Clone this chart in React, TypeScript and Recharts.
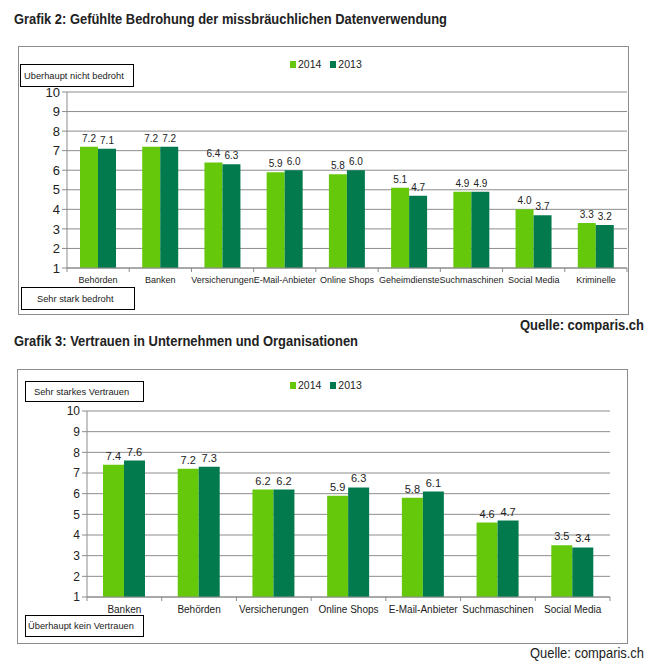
import React from 'react';
import { BarChart, Bar, XAxis, YAxis, CartesianGrid, LabelList } from 'recharts';

const threatCategories = ['Behörden', 'Banken', 'Versicherungen', 'E-Mail-Anbieter', 'Online Shops', 'Geheimdienste', 'Suchmaschinen', 'Social Media', 'Kriminelle'];
const threat2014 = [7.2, 7.2, 6.4, 5.9, 5.8, 5.1, 4.9, 4.0, 3.3];
const threat2013 = [7.1, 7.2, 6.3, 6.0, 6.0, 4.7, 4.9, 3.7, 3.2];

const trustCategories = ['Banken', 'Behörden', 'Versicherungen', 'Online Shops', 'E-Mail-Anbieter', 'Suchmaschinen', 'Social Media'];
const trust2014 = [7.4, 7.2, 6.2, 5.9, 5.8, 4.6, 3.5];
const trust2013 = [7.6, 7.3, 6.2, 6.3, 6.1, 4.7, 3.4];

const yTicks = [1, 2, 3, 4, 5, 6, 7, 8, 9, 10];
const seriesNames = ['2014', '2013'];

const LIGHT = '#66c80a';
const DARK = '#037a4e';
const GRID = '#8c8c8c';
const FONT = 'Arial, "Liberation Sans", sans-serif';

const threatData = threatCategories.map((name, i) => ({ name, y2014: threat2014[i], y2013: threat2013[i] }));
const trustData = trustCategories.map((name, i) => ({ name, y2014: trust2014[i], y2013: trust2013[i] }));

// x-axis tick: label in the middle, small tick marks on the category borders
const makeTick = (step: number, count: number, fontSize: number, dy: number) => (props: any) => {
  const { x, y, payload, index } = props;
  return (
    <g>
      <line x1={x - step / 2} x2={x - step / 2} y1={y} y2={y + 4} stroke={GRID} />
      {index === count - 1 && <line x1={x + step / 2} x2={x + step / 2} y1={y} y2={y + 4} stroke={GRID} />}
      <text x={x} y={y + dy} textAnchor="middle" fontSize={fontSize} fill="#222" fontFamily={FONT}>
        {payload.value}
      </text>
    </g>
  );
};

const LegendBox = ({ left, top }: { left: number; top: number }) => (
  <div style={{ position: 'absolute', left, top, display: 'flex', alignItems: 'center', fontFamily: FONT, fontSize: 10.5, color: '#222' }}>
    {seriesNames.map((s, i) => (
      <span key={s} style={{ display: 'flex', alignItems: 'center', marginRight: 9 }}>
        <span style={{ width: 6, height: 7, background: i === 0 ? LIGHT : DARK, display: 'inline-block', marginRight: 2 }} />
        {s}
      </span>
    ))}
  </div>
);

const NoteBox = ({ left, top, width, height, padLeft, text }: any) => (
  <div
    style={{
      position: 'absolute', left, top, width, height, border: '1px solid #000', boxSizing: 'border-box',
      fontFamily: FONT, fontSize: 9.3, color: '#222', paddingLeft: padLeft, display: 'flex', alignItems: 'center', background: '#fff'
    }}
  >
    {text}
  </div>
);

const fmt = (v: any) => Number(v).toFixed(1);

export default function App() {
  return (
    <div style={{ position: 'absolute', left: 0, top: 0, width: 659, height: 669, background: '#fff', overflow: 'hidden' }}>
      <svg width={659} height={669} style={{ position: 'absolute', left: 0, top: 0 }}>
        <text x={14} y={23.5} fontFamily={FONT} fontWeight="bold" fontSize={14} fill="#222" textLength={433} lengthAdjust="spacingAndGlyphs">
          Grafik 2: Gefühlte Bedrohung der missbräuchlichen Datenverwendung
        </text>
        <text x={520} y={330} fontFamily={FONT} fontWeight="bold" fontSize={14} fill="#222" textLength={124} lengthAdjust="spacingAndGlyphs">
          Quelle: comparis.ch
        </text>
        <text x={14} y={346} fontFamily={FONT} fontWeight="bold" fontSize={14} fill="#222" textLength={344} lengthAdjust="spacingAndGlyphs">
          Grafik 3: Vertrauen in Unternehmen und Organisationen
        </text>
        <text x={530} y={658} fontFamily={FONT} fontSize={14} fill="#222" textLength={114} lengthAdjust="spacingAndGlyphs">
          Quelle: comparis.ch
        </text>
      </svg>

      {/* Grafik 2 */}
      <div style={{ position: 'absolute', left: 18, top: 46, width: 611, height: 269, border: `1px solid ${GRID}`, boxSizing: 'border-box' }} />
      <div style={{ position: 'absolute', left: 0, top: 46 }}>
        <BarChart width={659} height={268} data={threatData} margin={{ top: 46, right: 32, bottom: 16, left: 17 }} barGap={0} barSize={18}>
          <CartesianGrid vertical={false} stroke={GRID} />
          <XAxis
            dataKey="name"
            interval={0}
            tickSize={0}
            tickMargin={0}
            height={30}
            axisLine={{ stroke: GRID }}
            tickLine={false}
            tick={makeTick(560 / 9, 9, 9, 14.5)}
          />
          <YAxis
            width={50}
            type="number"
            domain={[1, 10]}
            ticks={yTicks}
            interval={0}
            tickSize={5}
            axisLine={{ stroke: GRID }}
            tickLine={{ stroke: GRID }}
            tick={{ fontSize: 13, fill: '#222', fontFamily: FONT }}
          />
          <Bar dataKey="y2014" fill={LIGHT} isAnimationActive={false}>
            <LabelList dataKey="y2014" position="top" offset={5} formatter={fmt} style={{ fontSize: 10, fill: '#222', fontFamily: FONT }} />
          </Bar>
          <Bar dataKey="y2013" fill={DARK} isAnimationActive={false}>
            <LabelList dataKey="y2013" position="top" offset={5} formatter={fmt} style={{ fontSize: 10, fill: '#222', fontFamily: FONT }} />
          </Bar>
        </BarChart>
      </div>
      <LegendBox left={290} top={58} />
      <NoteBox left={20} top={64} width={114} height={23} padLeft={3} text="Uberhaupt nicht bedroht" />
      <NoteBox left={21} top={287} width={114} height={23} padLeft={15} text="Sehr stark bedroht" />

      {/* Grafik 3 */}
      <div style={{ position: 'absolute', left: 17, top: 369, width: 611, height: 275, border: `1px solid ${GRID}`, boxSizing: 'border-box' }} />
      <div style={{ position: 'absolute', left: 0, top: 369 }}>
        <BarChart width={659} height={274} data={trustData} margin={{ top: 42, right: 49, bottom: 16, left: 37 }} barGap={0} barSize={21}>
          <CartesianGrid vertical={false} stroke={GRID} />
          <XAxis
            dataKey="name"
            interval={0}
            tickSize={0}
            tickMargin={0}
            height={30}
            axisLine={{ stroke: GRID }}
            tickLine={false}
            tick={makeTick(523 / 7, 7, 10, 15.5)}
          />
          <YAxis
            width={50}
            type="number"
            domain={[1, 10]}
            ticks={yTicks}
            interval={0}
            tickSize={5}
            axisLine={{ stroke: GRID }}
            tickLine={{ stroke: GRID }}
            tick={{ fontSize: 12, fill: '#222', fontFamily: FONT }}
          />
          <Bar dataKey="y2014" fill={LIGHT} isAnimationActive={false}>
            <LabelList dataKey="y2014" position="top" offset={5} formatter={fmt} style={{ fontSize: 11, fill: '#222', fontFamily: FONT }} />
          </Bar>
          <Bar dataKey="y2013" fill={DARK} isAnimationActive={false}>
            <LabelList dataKey="y2013" position="top" offset={5} formatter={fmt} style={{ fontSize: 11, fill: '#222', fontFamily: FONT }} />
          </Bar>
        </BarChart>
      </div>
      <LegendBox left={290} top={379} />
      <NoteBox left={25} top={381} width={119} height={21} padLeft={8} text="Sehr starkes Vertrauen" />
      <NoteBox left={25} top={615} width={119} height={22} padLeft={2} text="Überhaupt kein Vertrauen" />
    </div>
  );
}
